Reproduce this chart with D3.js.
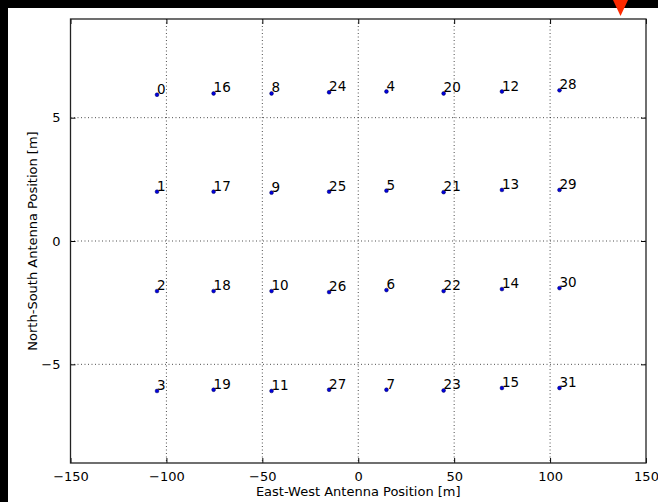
<!DOCTYPE html>
<html><head><meta charset="utf-8">
<script src="https://cdn.jsdelivr.net/npm/d3@7"></script>
<style>
html,body{margin:0;padding:0;background:#fff;}
svg{display:block;}
text{font-family:"DejaVu Sans",sans-serif;fill:#000;}
</style></head>
<body>
<svg id="chart" width="658" height="502"></svg>
<script>
// Antenna data
const antennaIds = [0,16,8,24,4,20,12,28, 1,17,9,25,5,21,13,29, 2,18,10,26,6,22,14,30, 3,19,11,27,7,23,15,31];
const eastWest = [-104.9,-75.4,-45.2,-15.2,14.7,44.5,74.9,104.9,
                  -104.9,-75.4,-45.2,-15.2,14.7,44.5,74.9,104.9,
                  -104.9,-75.4,-45.2,-15.2,14.7,44.5,74.9,104.9,
                  -104.9,-75.4,-45.2,-15.2,14.7,44.5,74.9,104.9];
const northSouth = [5.93,5.98,5.98,6.03,6.06,5.98,6.06,6.11,
                    2.00,2.00,1.96,2.00,2.04,1.98,2.07,2.07,
                    -2.03,-2.03,-2.03,-2.07,-1.99,-2.03,-1.95,-1.91,
                    -6.08,-6.03,-6.08,-6.03,-6.03,-6.06,-5.96,-5.96];
const xTicks = [-150,-100,-50,0,50,100,150];
const yTicks = [-5,0,5];
const xDomain = [-150,150];
const yDomain = [-9,9];
const xTitle = "East-West Antenna Position [m]";
const yTitle = "North-South Antenna Position [m]";

const svg = d3.select("#chart");
const L = 70.5, R = 646, T = 19, B = 463;

// black borders (top/left)
svg.append("rect").attr("x",0).attr("y",0).attr("width",658).attr("height",8).attr("fill","#000");
svg.append("rect").attr("x",0).attr("y",0).attr("width",8).attr("height",502).attr("fill","#000");

const x = d3.scaleLinear().domain(xDomain).range([L,R]);
const y = d3.scaleLinear().domain(yDomain).range([B,T]);

// grid
const grid = svg.append("g");
xTicks.filter(t=>t>xDomain[0]&&t<xDomain[1]).forEach(t=>{
  grid.append("line").attr("x1",x(t)).attr("x2",x(t)).attr("y1",T).attr("y2",B)
    .attr("stroke","#000").attr("stroke-width",0.7).attr("stroke-dasharray","1,2.5");
});
yTicks.forEach(t=>{
  grid.append("line").attr("x1",L).attr("x2",R).attr("y1",y(t)).attr("y2",y(t))
    .attr("stroke","#000").attr("stroke-width",0.7).attr("stroke-dasharray","1,2.5");
});

// axes (inward ticks)
const tl = 5;
svg.append("g").attr("transform",`translate(0,${B})`)
  .call(d3.axisBottom(x).tickValues(xTicks).tickSizeInner(-tl).tickSizeOuter(0).tickPadding(9)
    .tickFormat(d=>d<0?"\u2212"+Math.abs(d):d))
  .call(g=>{g.select(".domain").remove();g.selectAll("text").attr("font-size",13).attr("font-family","DejaVu Sans");g.selectAll("line").attr("stroke","#000");});
svg.append("g").attr("transform",`translate(0,${T})`)
  .call(d3.axisTop(x).tickValues(xTicks).tickSizeInner(-tl).tickSizeOuter(0).tickFormat(""))
  .call(g=>{g.select(".domain").remove();g.selectAll("line").attr("stroke","#000");});
svg.append("g").attr("transform",`translate(${L},0)`)
  .call(d3.axisLeft(y).tickValues(yTicks).tickSizeInner(-tl).tickSizeOuter(0).tickPadding(10)
    .tickFormat(d=>d<0?"\u2212"+Math.abs(d):d))
  .call(g=>{g.select(".domain").remove();g.selectAll("text").attr("font-size",13).attr("font-family","DejaVu Sans");g.selectAll("line").attr("stroke","#000");});
svg.append("g").attr("transform",`translate(${R},0)`)
  .call(d3.axisRight(y).tickValues(yTicks).tickSizeInner(-tl).tickSizeOuter(0).tickFormat(""))
  .call(g=>{g.select(".domain").remove();g.selectAll("line").attr("stroke","#000");});

// frame
svg.append("rect").attr("x",L).attr("y",T).attr("width",R-L).attr("height",B-T)
  .attr("fill","none").attr("stroke","#222").attr("stroke-width",1.3);

// points and labels
const data = antennaIds.map((id,i)=>({id, ew:eastWest[i], ns:northSouth[i]}));
svg.append("g").selectAll("circle").data(data).join("circle")
  .attr("cx",d=>x(d.ew)).attr("cy",d=>y(d.ns)).attr("r",1.9)
  .attr("fill","#0000e0").attr("stroke","#000050").attr("stroke-width",0.5);
svg.append("g").selectAll("text").data(data).join("text")
  .attr("x",d=>x(d.ew)).attr("y",d=>y(d.ns)-1)
  .attr("font-size",13.5).attr("text-anchor","start")
  .text(d=>d.id);

// titles
svg.append("text").attr("x",(L+R)/2).attr("y",496).attr("text-anchor","middle")
  .attr("font-size",13).text(xTitle);
svg.append("text").attr("transform",`translate(37,${(T+B)/2}) rotate(-90)`)
  .attr("text-anchor","middle").attr("font-size",13).text(yTitle);

// red marker
svg.append("path").attr("d",d3.line()([[613,0],[628,0],[620.5,16]])+"Z").attr("fill","#ff2a00");
</script>
</body></html>
